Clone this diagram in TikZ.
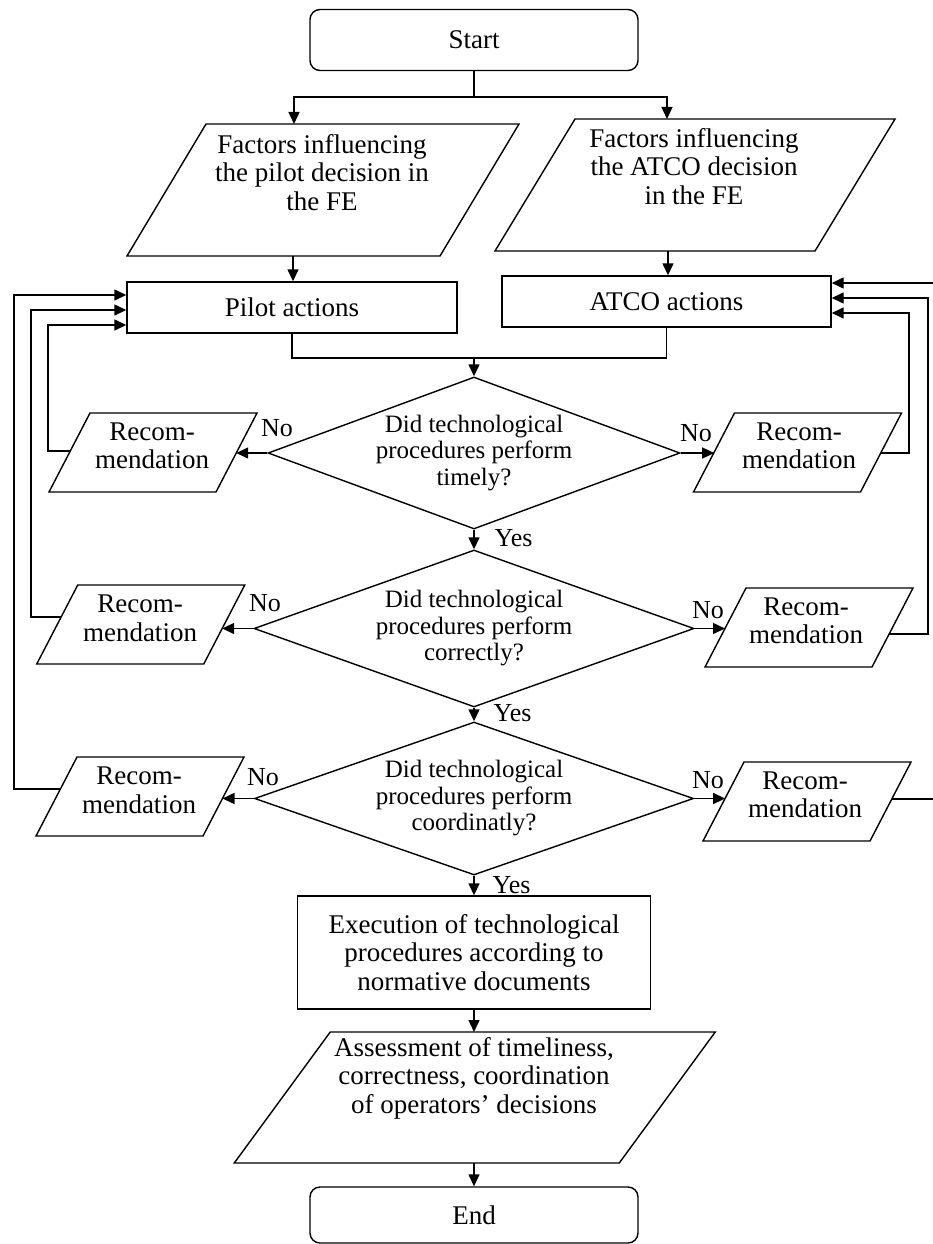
\documentclass[tikz,border=0pt]{standalone}
\usepackage{fontspec}
\setmainfont{Liberation Serif}
\usetikzlibrary{arrows.meta,shapes.geometric,calc}
\newcommand\pgram[6]{%
  \coordinate (#1-tl) at ({#2-#4+#6},{#3-#5});
  \coordinate (#1-tr) at ({#2+#4+#6},{#3-#5});
  \coordinate (#1-br) at ({#2+#4-#6},{#3+#5});
  \coordinate (#1-bl) at ({#2-#4-#6},{#3+#5});
  \draw[pline] (#1-tl) -- (#1-tr) -- (#1-br) -- (#1-bl) -- cycle;
}
\begin{document}
\begin{tikzpicture}[x=1pt,y=-1pt,line width=1.4pt,
  every node/.style={inner sep=0pt},
  txt/.style={font=\fontsize{27}{28.5}\selectfont,align=center},
  dtxt/.style={font=\fontsize{25}{26.5}\selectfont,align=center},
  lbl/.style={font=\fontsize{26}{28}\selectfont},
  term/.style={draw,rounded corners=10pt,minimum width=328pt,txt},
  procbox/.style={draw,rectangle,txt},
  decision/.style={draw,diamond,dtxt},
  arr/.style={-{Triangle[length=12pt,width=11pt]}},
  pline/.style={line join=miter}
]
\useasboundingbox (0,0) rectangle (933,1244);

% terminals and boxes
\node[term,minimum height=61pt] (start) at (474,40) {Start};
\pgram{f1}{323}{190}{156.5}{66}{39.5}
\node[txt] (f1t) at (322,172.5) {Factors influencing\\the pilot decision in\\the FE};
\pgram{f2}{695}{185}{160}{66}{40}
\node[txt] (f2t) at (694,166.5) {Factors influencing\\the ATCO decision\\in the FE};
\node[procbox,minimum width=330pt,minimum height=51pt] (pa) at (292,307.5) {Pilot actions};
\node[procbox,minimum width=329pt,minimum height=51pt] (aa) at (666.5,301.5) {ATCO actions};

\node[decision,aspect=2.7,minimum width=412pt,minimum height=152pt] (d1) at (474,453) {Did technological\\procedures perform\\timely?};
\node[decision,aspect=2.8,minimum width=440pt,minimum height=157pt] (d2) at (474,628.5) {Did technological\\procedures perform\\correctly?};
\node[decision,aspect=2.8,minimum width=439pt,minimum height=153pt] (d3) at (474,798.5) {Did technological\\procedures perform\\coordinatly?};

\node[procbox,minimum width=353pt,minimum height=113pt] (ex) at (474,952.5) {Execution of technological\\procedures according to\\normative documents};
\pgram{as}{474.75}{1097.5}{192.5}{65.5}{48}
\node[txt] (ast) at (474,1078) {Assessment of timeliness,\\correctness, coordination\\of operators’ decisions};
\node[term,minimum height=56pt] (end) at (474,1215) {End};

% recommendation boxes
\pgram{rl1}{153}{452.5}{83.5}{39.5}{20.5}
\node[txt] (rl1t) at (152,446) {Recom-\\mendation};
\pgram{rl2}{140.75}{624.5}{83.5}{39.5}{20.5}
\node[txt] (rl2t) at (140,618.5) {Recom-\\mendation};
\pgram{rl3}{140}{796.5}{83.5}{39.5}{20.5}
\node[txt] (rl3t) at (139,790.5) {Recom-\\mendation};
\pgram{rr1}{797.5}{452.5}{83.5}{39.5}{20.5}
\node[txt] (rr1t) at (799,446) {Recom-\\mendation};
\pgram{rr2}{809}{627.5}{83.5}{39.5}{20.5}
\node[txt] (rr2t) at (806,621) {Recom-\\mendation};
\pgram{rr3}{807}{801.5}{83.5}{39.5}{20.5}
\node[txt] (rr3t) at (805,795) {Recom-\\mendation};

% labels
\node[lbl] (n1l) at (277,428) {No};
\node[lbl] (n1r) at (696,433) {No};
\node[lbl] (n2l) at (265,603) {No};
\node[lbl] (n2r) at (708,610) {No};
\node[lbl] (n3l) at (263,777) {No};
\node[lbl] (n3r) at (708,780) {No};
\node[lbl,anchor=west] (y1) at (494,538) {Yes};
\node[lbl,anchor=west] (y2) at (493,713) {Yes};
\node[lbl,anchor=west] (y3) at (492,885) {Yes};

% coordinates
\coordinate (split) at (474,97);
\coordinate (f1in) at (294,124);
\coordinate (f2in) at (667,119);
\coordinate (f1out) at (293,256);
\coordinate (f2out) at (668,251);
\coordinate (merge) at (474,358);
\coordinate (astop) at (474,1032);
\coordinate (asbot) at (474,1163);

\coordinate (rl1in) at (236.2,453);
\coordinate (rr1in) at (714.2,453);
\coordinate (rl2in) at (222.2,628.5);
\coordinate (rr2in) at (725.0,628.5);
\coordinate (rl3in) at (222.5,798.5);
\coordinate (rr3in) at (725.1,798.5);

\coordinate (rl1out) at (70.3,451);
\coordinate (rl2out) at (61.1,617);
\coordinate (rl3out) at (60.4,789);
\coordinate (rr1out) at (880.7,453);
\coordinate (rr2out) at (889.1,634);
\coordinate (rr3out) at (891.8,799);

\coordinate (pain1) at ($(pa.west)+(0,17.5)$);
\coordinate (pain2) at ($(pa.west)+(0,2.5)$);
\coordinate (pain3) at ($(pa.west)+(0,-12.5)$);
\coordinate (aain1) at ($(aa.east)+(0,11.5)$);
\coordinate (aain2) at ($(aa.east)+(0,-3.5)$);
\coordinate (aain3) at ($(aa.east)+(0,-18.5)$);
\coordinate (lx1) at (48,0);
\coordinate (lx2) at (31,0);
\coordinate (lx3) at (14,0);
\coordinate (rx1) at (909,0);
\coordinate (rx2) at (928,0);
\coordinate (rx3) at (945,0);

% connectors
\draw (start.south) -- (split);
\draw[arr] (split) -| (f1in);
\draw[arr] (split) -| (f2in);
\draw[arr] (f1out) -- (f1out |- pa.north);
\draw[arr] (f2out) -- (f2out |- aa.north);
\draw (pa.south) |- (merge) -| (aa.south);
\draw[arr] (merge) -- (d1.north);
\draw[arr] (d1.south) -- (d2.north);
\draw[arr] (d2.south) -- (d3.north);
\draw[arr] (d3.south) -- (ex.north);
\draw[arr] (ex.south) -- (astop);
\draw[arr] (asbot) -- (end.north);

\draw[arr] (d1.west) -- (rl1in);
\draw[arr] (d1.east) -- (rr1in);
\draw[arr] (d2.west) -- (rl2in);
\draw[arr] (d2.east) -- (rr2in);
\draw[arr] (d3.west) -- (rl3in);
\draw[arr] (d3.east) -- (rr3in);

\draw[arr] (rl1out) -| (lx1 |- pain1) -- (pain1);
\draw[arr] (rl2out) -| (lx2 |- pain2) -- (pain2);
\draw[arr] (rl3out) -| (lx3 |- pain3) -- (pain3);
\draw[arr] (rr1out) -| (rx1 |- aain1) -- (aain1);
\draw[arr] (rr2out) -| (rx2 |- aain2) -- (aain2);
\draw[arr] (rr3out) -| (rx3 |- aain3) -- (aain3);
\end{tikzpicture}
\end{document}
